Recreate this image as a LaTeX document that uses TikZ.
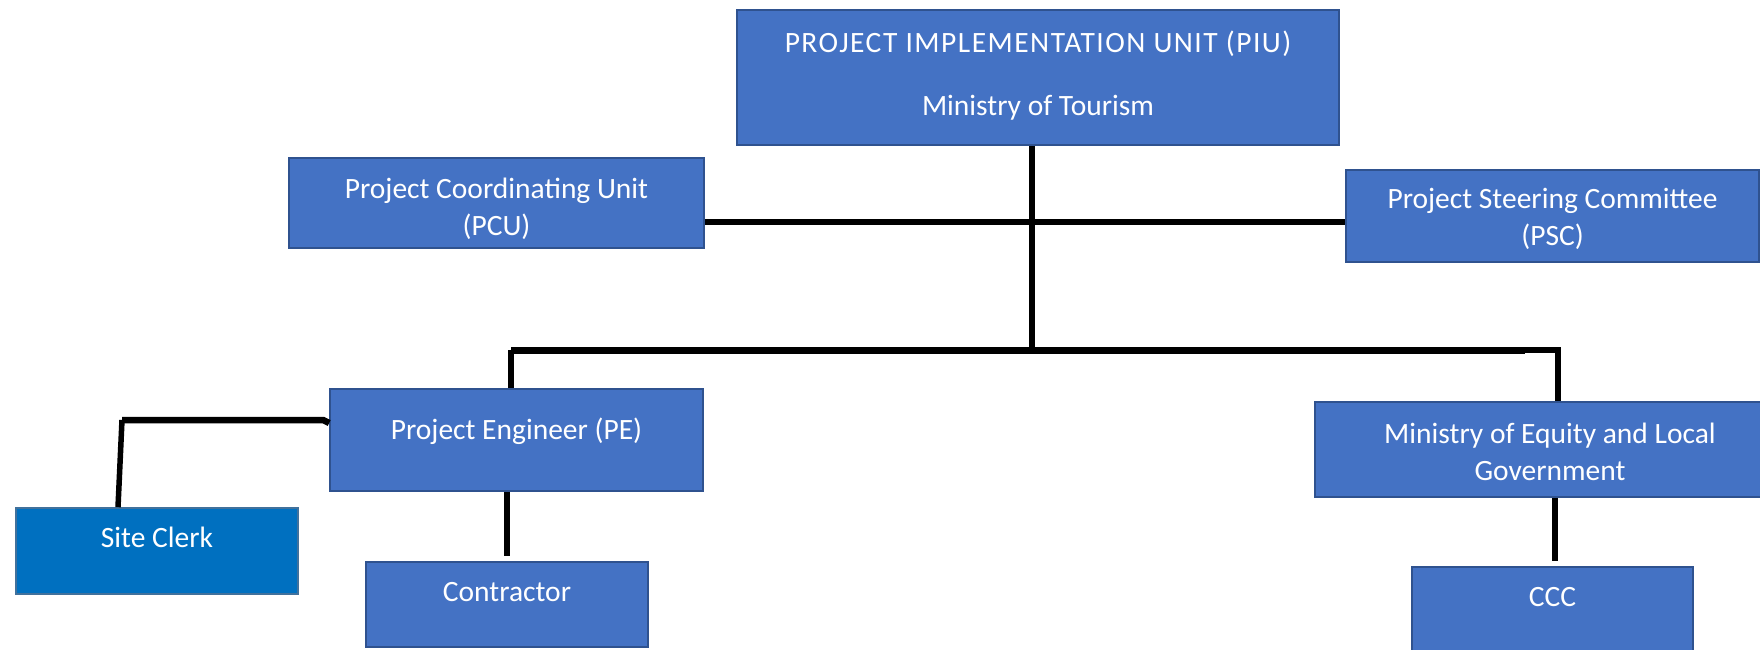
\documentclass[tikz,border=0pt]{standalone}
\usepackage{fontspec}
\setmainfont{Carlito}
\begin{document}
\begin{tikzpicture}[x=1pt,y=-1pt,
  box/.style={draw=boxedge,fill=boxfill,line width=1.6pt,inner sep=0pt,rectangle},
  clerkbox/.style={box,fill=clerkfill,draw=clerkedge},
  txt/.style={text=white,inner sep=0pt,anchor=base,align=center,
              font={\fontsize{29.5}{37}\selectfont}},
  vline/.style={line width=5.5pt},
  hline/.style={line width=6.5pt},
  busline/.style={line width=7pt}]
\definecolor{boxfill}{HTML}{4472C4}
\definecolor{boxedge}{HTML}{2F528F}
\definecolor{clerkfill}{HTML}{0070C0}
\definecolor{clerkedge}{HTML}{41719C}
\useasboundingbox (0,0) rectangle (1760,649);
\clip (0,0) rectangle (1760,649);

% boxes
\node[box,minimum width=602pt,minimum height=135pt] (piu) at (1038,77.5) {};
\node[box,minimum width=415pt,minimum height=90pt] (pcu) at (496.5,203) {};
\node[box,minimum width=413pt,minimum height=92pt] (psc) at (1552.5,216) {};
\node[box,minimum width=373pt,minimum height=102pt] (pe) at (516.5,440) {};
\node[clerkbox,minimum width=282pt,minimum height=86pt] (sc) at (157,551) {};
\node[box,minimum width=282pt,minimum height=85pt] (con) at (507,604.5) {};
\node[box,minimum width=470pt,minimum height=95pt] (meg) at (1550,449.5) {};
\node[box,minimum width=281pt,minimum height=113pt] (ccc) at (1552.5,623.5) {};

% labels (a multi-line label sits on the baseline of its last line)
\node[txt] (piu-t) at (1038,115) {{\addfontfeature{LetterSpace=5}PROJECT IMPLEMENTATION UNIT (PIU)}\\[26pt]Ministry of Tourism};
\node[txt] (pcu-t) at (496.5,235) {Project Coordinating Unit\\(PCU)};
\node[txt] (psc-t) at (1552.5,245) {Project Steering Committee\\(PSC)};
\node[txt] (pe-t) at (516.5,439) {Project Engineer (PE)};
\node[txt] (sc-t) at (157,547) {Site Clerk};
\node[txt] (con-t) at (507,601) {Contractor};
\node[txt] (meg-t) at (1550,480) {Ministry of Equity and Local\\Government};
\node[txt] (ccc-t) at (1552.5,606) {CCC};

% junction points
\coordinate (hub) at (1032,222);
\coordinate (busmid) at (1032,350);
\coordinate (busL) at (511,350);
\coordinate (busR) at (1525,350);
\coordinate (busE) at (1558,350);
\coordinate (clerkK) at (122,420);

% connectors
\draw[vline] (piu.south -| hub) -- (busmid);
\draw[hline] (pcu.east |- hub) -- (psc.west |- hub);
\draw[busline] (busL) -- (busR);
\draw[vline] (pe.north -| busL) -- (busL);
\draw[vline] (busR) -- (busE) -- (meg.north -| busE);
\draw[hline] ([yshift=-3pt]pe.west |- clerkK) -- ([xshift=-6pt]pe.west |- clerkK) -- (clerkK);
\draw[vline] (clerkK) -- ([xshift=-4pt]sc.north -| clerkK);
\draw[vline,shorten >=5pt] (con.north |- pe.south) -- (con.north);
\draw[vline,shorten >=5pt] ([xshift=2.5pt]ccc.north |- meg.south) -- ([xshift=2.5pt]ccc.north);
\end{tikzpicture}
\end{document}
